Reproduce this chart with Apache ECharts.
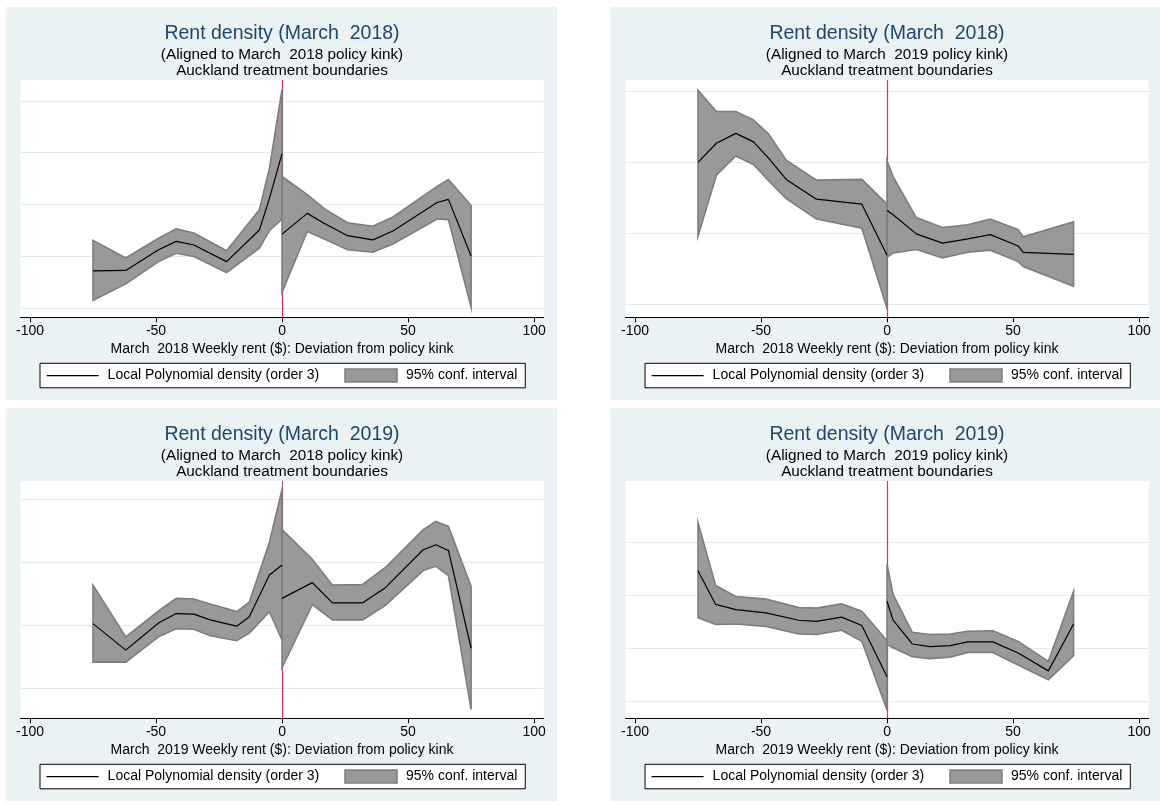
<!DOCTYPE html>
<html><head><meta charset="utf-8">
<script src="https://cdn.jsdelivr.net/npm/echarts@6/dist/echarts.min.js"></script>
<style>html,body{margin:0;padding:0;background:#fff}#chart{width:1160px;height:805px}</style>
</head><body><div id="chart"></div>
<script>
// ---------- DATA ----------
const xTickLabels = [-100, -50, 0, 50, 100];

const mainTitles = ['Rent density (March  2018)', 'Rent density (March  2018)', 'Rent density (March  2019)', 'Rent density (March  2019)'];
const subTitles = ['(Aligned to March  2018 policy kink)', '(Aligned to March  2019 policy kink)', '(Aligned to March  2018 policy kink)', '(Aligned to March  2019 policy kink)'];
const subTitle2 = 'Auckland treatment boundaries';
const xNames = ['March  2018 Weekly rent ($): Deviation from policy kink', 'March  2018 Weekly rent ($): Deviation from policy kink', 'March  2019 Weekly rent ($): Deviation from policy kink', 'March  2019 Weekly rent ($): Deviation from policy kink'];
const LINE_NAME = 'Local Polynomial density (order 3)';
const BAND_NAME = '95% conf. interval';

// y gridline values (unlabelled density axis, arbitrary units)
const gridVals = [[0, 1, 2, 3, 4], [0, 1, 2, 3], [0, 1, 2, 3], [0, 1, 2, 3]];
const yMin = [-0.173, -0.188, -0.47, -0.329];
const yMax = [4.40, 3.164, 3.29, 4.17];

// Panel 1: March 2018, aligned to 2018 kink
const p1LeftX  = [-75, -62, -49, -42, -35, -22, -9, -5, 0];
const p1LeftC  = [0.72, 0.73, 1.13, 1.29, 1.22, 0.90, 1.51, 2.12, 2.98];
const p1LeftHi = [1.31, 0.97, 1.35, 1.53, 1.45, 1.11, 1.90, 2.70, 4.22];
const p1LeftLo = [0.15, 0.47, 0.90, 1.06, 1.00, 0.69, 1.16, 1.50, 1.72];
const p1RightX  = [0, 10, 17, 26, 36, 44, 61.5, 66, 75];
const p1RightC  = [1.43, 1.83, 1.63, 1.40, 1.32, 1.49, 2.04, 2.10, 1.01];
const p1RightHi = [2.54, 2.19, 1.91, 1.65, 1.58, 1.76, 2.35, 2.48, 1.98];
const p1RightLo = [0.31, 1.48, 1.33, 1.13, 1.08, 1.24, 1.72, 1.71, 0.02];

// Panel 2: March 2018, aligned to 2019 kink
const p2LeftX  = [-75, -67.7, -60, -53, -47, -40, -28, -10, 0];
const p2LeftC  = [2.00, 2.27, 2.41, 2.29, 2.06, 1.76, 1.48, 1.41, 0.69];
const p2LeftHi = [3.02, 2.72, 2.72, 2.60, 2.40, 2.03, 1.75, 1.76, 1.41];
const p2LeftLo = [0.96, 1.82, 2.09, 1.97, 1.74, 1.49, 1.20, 1.07, -0.06];
const p2RightX  = [0, 2.4, 11.6, 22, 32, 41, 52, 54, 74];
const p2RightC  = [1.32, 1.26, 0.99, 0.86, 0.92, 0.98, 0.82, 0.73, 0.70];
const p2RightHi = [2.02, 1.80, 1.22, 1.08, 1.12, 1.20, 1.05, 0.95, 1.16];
const p2RightLo = [0.66, 0.72, 0.77, 0.65, 0.73, 0.76, 0.60, 0.53, 0.25];

// Panel 3: March 2019, aligned to 2018 kink
const p3LeftX  = [-75, -62, -49, -42, -35, -28.5, -18, -13, -5, 0];
const p3LeftC  = [1.03, 0.61, 1.04, 1.19, 1.18, 1.09, 0.99, 1.14, 1.80, 1.96];
const p3LeftHi = [1.64, 0.82, 1.23, 1.43, 1.42, 1.34, 1.22, 1.37, 2.32, 3.16];
const p3LeftLo = [0.42, 0.42, 0.82, 0.95, 0.94, 0.84, 0.76, 0.88, 1.22, 0.77];
const p3RightX  = [0, 12, 20, 32, 41, 56, 61, 66, 75];
const p3RightC  = [1.43, 1.68, 1.36, 1.36, 1.60, 2.20, 2.28, 2.19, 0.64];
const p3RightHi = [2.52, 2.05, 1.64, 1.65, 1.92, 2.52, 2.65, 2.57, 1.62];
const p3RightLo = [0.33, 1.33, 1.09, 1.09, 1.32, 1.87, 1.94, 1.79, -0.33];

// Panel 4: March 2019, aligned to 2019 kink
const p4LeftX  = [-75, -68, -60, -48, -35, -28, -18, -10, 0];
const p4LeftC  = [2.47, 1.83, 1.73, 1.67, 1.53, 1.51, 1.59, 1.43, 0.46];
const p4LeftHi = [3.38, 2.19, 1.98, 1.93, 1.77, 1.76, 1.84, 1.70, 1.14];
const p4LeftLo = [1.58, 1.45, 1.46, 1.41, 1.27, 1.26, 1.34, 1.13, -0.17];
const p4RightX  = [0, 2.4, 10, 17, 25, 32, 42, 52, 64, 74];
const p4RightC  = [1.89, 1.53, 1.08, 1.03, 1.05, 1.12, 1.12, 0.91, 0.57, 1.46];
const p4RightHi = [2.59, 2.02, 1.30, 1.26, 1.27, 1.32, 1.33, 1.13, 0.75, 2.08];
const p4RightLo = [1.07, 1.01, 0.84, 0.80, 0.83, 0.92, 0.92, 0.68, 0.40, 0.86];

const panels = [
  {segs: [[p1LeftX, p1LeftC, p1LeftLo, p1LeftHi], [p1RightX, p1RightC, p1RightLo, p1RightHi]]},
  {segs: [[p2LeftX, p2LeftC, p2LeftLo, p2LeftHi], [p2RightX, p2RightC, p2RightLo, p2RightHi]]},
  {segs: [[p3LeftX, p3LeftC, p3LeftLo, p3LeftHi], [p3RightX, p3RightC, p3RightLo, p3RightHi]]},
  {segs: [[p4LeftX, p4LeftC, p4LeftLo, p4LeftHi], [p4RightX, p4RightC, p4RightLo, p4RightHi]]}
];

// ---------- STYLE / LAYOUT ----------
const FONT = '"Liberation Sans", Arial, Helvetica, sans-serif';
const BG = '#eaf2f3';
const GRIDLINE = '#e3ebed';
const RED = '#dc2f62';
const BAND_FILL = '#999999';
const BAND_EDGE = '#7d7d7d';
const offsets = [[0, 0], [605, 0], [0, 401], [605, 401]];

const option = {
  animation: false,
  backgroundColor: '#ffffff',
  graphic: [], title: [], grid: [], xAxis: [], yAxis: [], legend: [], series: []
};

function bandSeries(i, xs, lo, hi) {
  return {
    type: 'custom', name: BAND_NAME, xAxisIndex: i, yAxisIndex: i, z: 2, silent: true,
    itemStyle: {color: BAND_FILL},
    data: xs.map((x, k) => [x, lo[k], hi[k]]),
    encode: {x: 0, y: [1, 2]},
    renderItem: function (params, api) {
      if (params.dataIndex !== 0) return null;
      const pts = [];
      for (let k = 0; k < xs.length; k++) pts.push(api.coord([xs[k], hi[k]]));
      for (let k = xs.length - 1; k >= 0; k--) pts.push(api.coord([xs[k], lo[k]]));
      return {type: 'polygon', shape: {points: pts},
        style: {fill: BAND_FILL, stroke: BAND_EDGE, lineWidth: 1.6, lineJoin: 'miter'}};
    }
  };
}

panels.forEach((p, i) => {
  const [dx, dy] = offsets[i];
  const cx = 282 + dx;
  option.graphic.push({type: 'rect', silent: true, z: -10,
    shape: {x: 5.5 + dx, y: 7 + dy, width: 551.5, height: 393}, style: {fill: BG}});
  option.title.push({text: mainTitles[i], left: cx, top: 22.3 + dy, textAlign: 'center', padding: 0,
    textStyle: {fontFamily: FONT, fontSize: 19.5, fontWeight: 'normal', color: '#1a476f', lineHeight: 22}});
  option.title.push({text: subTitles[i] + '\n' + subTitle2, left: cx, top: 47.2 + dy, textAlign: 'center', padding: 0,
    textStyle: {fontFamily: FONT, fontSize: 15.3, fontWeight: 'normal', color: '#000', lineHeight: 15.7}});
  option.grid.push({left: 20.4 + dx, top: 80 + dy, width: 523.3, height: 237.3,
    show: true, backgroundColor: '#ffffff', borderWidth: 0});
  option.xAxis.push({type: 'value', gridIndex: i, min: -103.8, max: 103.8,
    name: xNames[i], nameLocation: 'middle', nameGap: 25,
    nameTextStyle: {fontFamily: FONT, fontSize: 14, color: '#000'},
    axisLine: {show: true, onZero: false, lineStyle: {color: '#000', width: 1}},
    axisTick: {show: true, length: 5, customValues: xTickLabels, lineStyle: {color: '#000', width: 1}},
    axisLabel: {customValues: xTickLabels, fontFamily: FONT, fontSize: 14, color: '#000', margin: 7},
    splitLine: {show: false}});
  option.yAxis.push({type: 'value', gridIndex: i, min: yMin[i], max: yMax[i], show: false,
    splitLine: {show: false}});
  option.legend.push({left: 40 + dx, top: 363.3 + dy, orient: 'horizontal',
    backgroundColor: '#ffffff', borderColor: '#000', borderWidth: 1, borderRadius: 0,
    padding: [5, 8, 5, 6], itemGap: 25, itemWidth: 52, itemHeight: 13, selectedMode: false,
    textStyle: {fontFamily: FONT, fontSize: 14, color: '#000', padding: [0, 0, 0, 4]},
    data: [{name: LINE_NAME, itemStyle: {opacity: 0}, lineStyle: {color: '#000', width: 1.2}},
           {name: BAND_NAME, icon: 'rect', itemStyle: {color: BAND_FILL, borderColor: BAND_EDGE, borderWidth: 1.5}}]});
  // gridlines + vertical kink line (drawn beneath the bands)
  option.series.push({type: 'line', xAxisIndex: i, yAxisIndex: i, silent: true, z: 1,
    symbol: 'none', lineStyle: {width: 0, opacity: 0}, data: [[0, gridVals[i][0]]],
    markLine: {silent: true, z: 1, symbol: ['none', 'none'], animation: false, label: {show: false},
      data: gridVals[i].map(v => ({yAxis: v, lineStyle: {color: GRIDLINE, width: 1.2, type: 'solid'}}))
        .concat([{xAxis: 0, lineStyle: {color: RED, width: 1.2, type: 'solid'}}])}});
  p.segs.forEach(seg => {
    const [xs, c, lo, hi] = seg;
    option.series.push(bandSeries(i, xs, lo, hi));
  });
  p.segs.forEach(seg => {
    const [xs, c] = seg;
    option.series.push({type: 'line', name: LINE_NAME, xAxisIndex: i, yAxisIndex: i, z: 3, silent: true,
      symbol: 'none', data: xs.map((x, k) => [x, c[k]]),
      lineStyle: {color: '#000', width: 1.2}, itemStyle: {color: '#000'}});
  });
});

const chart = echarts.init(document.getElementById('chart'), null, {renderer: 'canvas'});
chart.setOption(option);
</script>
</body></html>
